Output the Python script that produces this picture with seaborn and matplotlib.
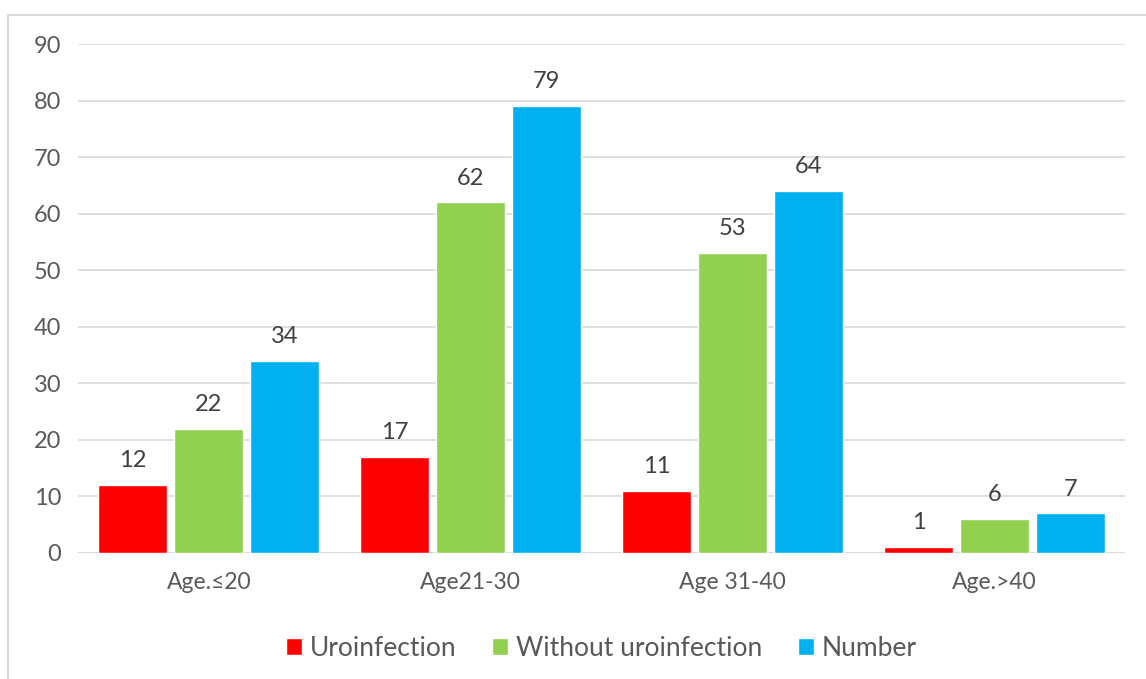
import matplotlib.pyplot as plt
import matplotlib.patches as mpatches
import pandas as pd
import seaborn as sns

# data
ages = ['Age.≤20', 'Age21-30', 'Age 31-40', 'Age.>40']
uroinfection = [12, 17, 11, 1]
without_uroinfection = [22, 62, 53, 6]
number = [34, 79, 64, 7]
series = ['Uroinfection', 'Without uroinfection', 'Number']
colors = ['#FF0000', '#92D050', '#00B0F0']

df = pd.DataFrame({
    'age': ages * 3,
    'group': [s for s in series for _ in ages],
    'value': uroinfection + without_uroinfection + number,
})

sns.set_style("white")
plt.rcParams['font.family'] = ['Lato', 'DejaVu Sans']

fig = plt.figure(figsize=(11.46, 6.79), dpi=100)
ax = fig.add_axes([0.068, 0.1856, 0.914, 0.7494])

sns.barplot(data=df, x='age', y='value', hue='group', hue_order=series,
            palette=colors, width=0.87, gap=0.09, saturation=1,
            errorbar=None, ax=ax, legend=True, zorder=3)

for c in ax.containers:
    ax.bar_label(c, padding=10, fontsize=17, color='#404040')

ax.set_ylim(0, 90)
ax.set_yticks(range(0, 91, 10))
ax.set_xlim(-0.5, 3.5)
ax.set_xlabel('')
ax.set_ylabel('')
ax.yaxis.grid(True, color='#D9D9D9', linewidth=1.2, zorder=0)
ax.set_axisbelow(True)
for s in ax.spines.values():
    s.set_visible(False)
ax.tick_params(axis='y', labelsize=17, colors='#595959', length=0, pad=12)
ax.tick_params(axis='x', labelsize=16.5, colors='#595959', length=0, pad=14)
ax.axhline(0, color='#D9D9D9', linewidth=1.5, zorder=1)

handles, labels = ax.get_legend_handles_labels()
ax.legend(handles, labels, loc='center', bbox_to_anchor=(0.5, -0.188),
          ncol=3, frameon=False, fontsize=19, handlelength=0.6,
          handleheight=0.6, handletextpad=0.3, columnspacing=1.35,
          labelcolor='#595959')

# chart frame
fig.patches.append(mpatches.Rectangle((8 / 1146, -0.05), 1.1, 1 - 15 / 679 + 0.05,
                                      transform=fig.transFigure, fill=False,
                                      edgecolor='#D9D9D9', linewidth=1.5))

fig.savefig('out.png', dpi=100)
